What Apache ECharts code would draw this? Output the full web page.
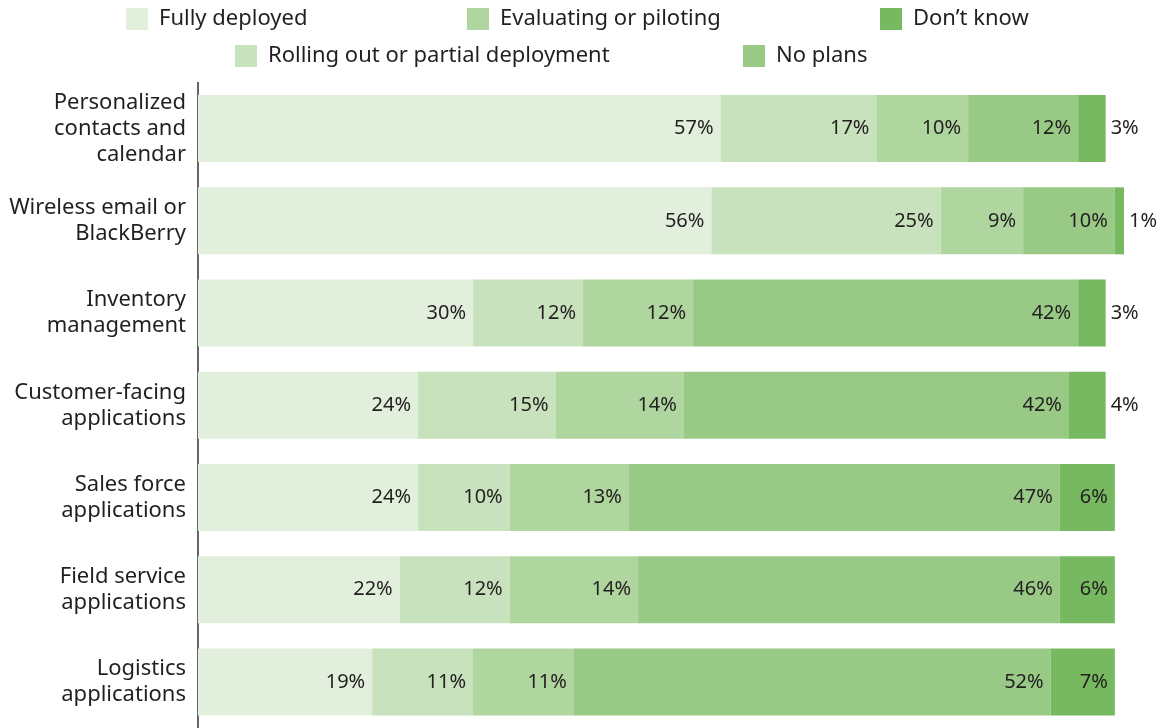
<!DOCTYPE html>
<html>
<head>
<meta charset="utf-8">
<script src="https://cdn.jsdelivr.net/npm/echarts@6/dist/echarts.min.js"></script>
<style>
  html, body { margin: 0; padding: 0; background: #ffffff; }
  #chart { width: 1164px; height: 728px; }
</style>
</head>
<body>
<div id="chart"></div>
<script>
// Deployment status of mobile applications, share of respondents (%)
const categories = [
  'Personalized\ncontacts and\ncalendar',
  'Wireless email or\nBlackBerry',
  'Inventory\nmanagement',
  'Customer-facing\napplications',
  'Sales force\napplications',
  'Field service\napplications',
  'Logistics\napplications'
];
const seriesNames = [
  'Fully deployed',
  'Rolling out or partial deployment',
  'Evaluating or piloting',
  'No plans',
  'Don\u2019t know'
];
const fullyDeployed   = [57, 56, 30, 24, 24, 22, 19];
const rollingOut      = [17, 25, 12, 15, 10, 12, 11];
const evaluating      = [10,  9, 12, 14, 13, 14, 11];
const noPlans         = [12, 10, 42, 42, 47, 46, 52];
const dontKnow        = [ 3,  1,  3,  4,  6,  6,  7];

const colors = ['#e1efdc', '#c8e2bd', '#afd69f', '#98ca85', '#76b960'];
const FONT = '"Noto Sans", "Open Sans", sans-serif';
const TEXT = '#231f20';

const valueSets = [fullyDeployed, rollingOut, evaluating, noPlans, dontKnow];

function labelFor(v, last) {
  // narrow end segments carry their value just outside the bar
  if (last && v < 5) {
    return { show: true, position: 'right', distance: 5 };
  }
  return { show: true, position: 'insideRight', distance: 7 };
}

const series = valueSets.map((vals, i) => ({
  name: seriesNames[i],
  type: 'bar',
  stack: 'total',
  barWidth: 67,
  clip: false,
  itemStyle: { color: colors[i] },
  label: {
    show: true,
    formatter: '{c}%',
    color: TEXT,
    fontFamily: FONT,
    fontSize: 20
  },
  emphasis: { disabled: true },
  data: vals.map(v => ({ value: v, label: labelFor(v, i === valueSets.length - 1) }))
}));

// legend items laid out in two staggered rows
const legendPos = [
  { left: 126, top: 8 },
  { left: 235, top: 45 },
  { left: 467, top: 8 },
  { left: 743, top: 45 },
  { left: 880, top: 8 }
];
const legends = seriesNames.map((n, i) => ({
  data: [n],
  left: legendPos[i].left,
  top: legendPos[i].top,
  icon: 'rect',
  itemWidth: 22,
  itemHeight: 22,
  padding: 0,
  selectedMode: false,
  textStyle: {
    color: TEXT,
    fontFamily: FONT,
    fontSize: 22,
    padding: [0, 0, 0, 6]
  }
}));

const chart = echarts.init(document.getElementById('chart'), null, { renderer: 'canvas' });
chart.setOption({
  animation: false,
  backgroundColor: '#ffffff',
  legend: legends,
  grid: { left: 198, top: 82.5, width: 926, height: 652, containLabel: false },
  xAxis: {
    type: 'value',
    min: 0,
    max: 101,
    show: false
  },
  yAxis: {
    type: 'category',
    inverse: true,
    data: categories,
    axisLine: { show: true, lineStyle: { color: '#333333', width: 1.5 } },
    axisTick: { show: false },
    axisLabel: {
      color: TEXT,
      fontFamily: FONT,
      fontSize: 22,
      lineHeight: 26,
      margin: 12,
      align: 'right'
    }
  },
  series: series
});
</script>
</body>
</html>
